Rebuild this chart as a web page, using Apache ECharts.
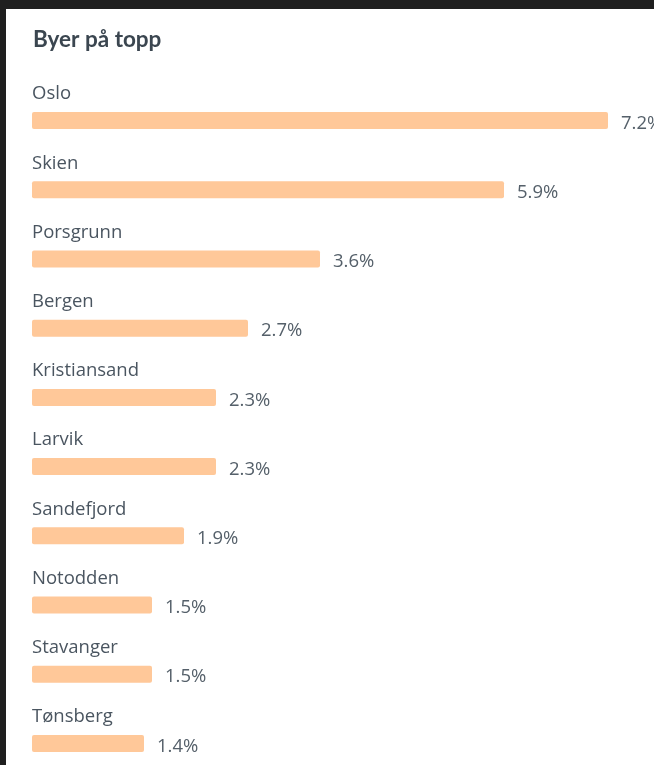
<!DOCTYPE html>
<html>
<head>
<meta charset="utf-8">
<script src="https://cdn.jsdelivr.net/npm/echarts@6/dist/echarts.min.js"></script>
<style>
  html, body { margin: 0; padding: 0; background: #1f1f1f; overflow: hidden; }
  #panel { position: absolute; left: 6px; top: 9px; width: 648px; height: 756px; background: #ffffff; }
  #main { position: absolute; left: 0; top: 0; width: 654px; height: 820px; }
</style>
</head>
<body>
<div id="panel"></div>
<div id="main"></div>
<script>
var cities = ['Oslo', 'Skien', 'Porsgrunn', 'Bergen', 'Kristiansand', 'Larvik', 'Sandefjord', 'Notodden', 'Stavanger', 'Tønsberg'];
var shares = [7.2, 5.9, 3.6, 2.7, 2.3, 2.3, 1.9, 1.5, 1.5, 1.4];

var chart = echarts.init(document.getElementById('main'));
var font = '"Open Sans", sans-serif';

var option = {
    backgroundColor: 'transparent',
    animation: false,
    title: {
        text: 'Byer på topp',
        left: 33,
        top: 28,
        padding: 0,
        textStyle: { fontFamily: 'Lato, sans-serif', fontSize: 22.5, fontWeight: 'bold', color: '#3b4650' }
    },
    grid: { left: 32, top: 86, width: 576, height: 692 },
    xAxis: {
        type: 'value', min: 0, max: 7.2,
        show: false
    },
    yAxis: {
        type: 'category', data: cities, inverse: true,
        show: false
    },
    series: [
        {
            // navnene over stolpene
            type: 'bar',
            data: shares,
            barWidth: 17,
            barGap: '-100%',
            itemStyle: { color: 'rgba(0,0,0,0)' },
            label: {
                show: true,
                position: [0, -18],
                align: 'left',
                verticalAlign: 'middle',
                formatter: '{b}',
                fontFamily: font,
                fontSize: 18.5,
                color: '#4a5560'
            },
            z: 1
        },
        {
            type: 'bar',
            data: shares,
            barWidth: 17,
            barGap: '-100%',
            itemStyle: { color: '#ffc899', borderRadius: 2 },
            label: {
                show: true,
                position: 'right',
                distance: 13,
                offset: [0, 3],
                formatter: '{c}%',
                fontFamily: font,
                fontSize: 18.5,
                color: '#55606a'
            },
            z: 2
        }
    ]
};
chart.setOption(option);
</script>
</body>
</html>
